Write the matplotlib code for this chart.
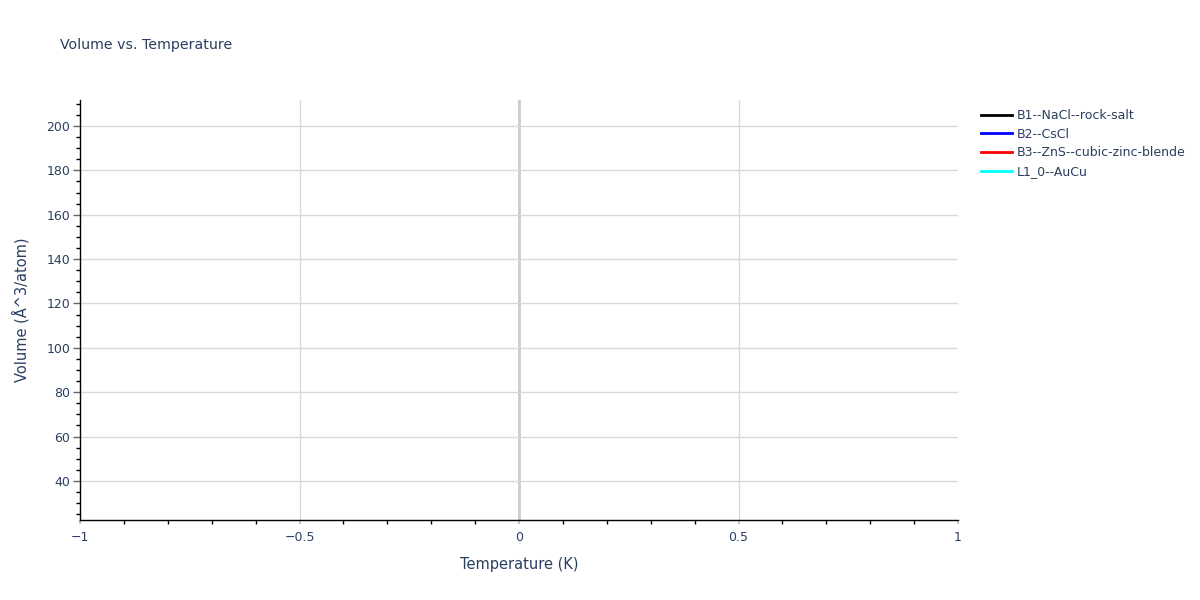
import matplotlib
matplotlib.use("Agg")
import matplotlib.pyplot as plt
from matplotlib.ticker import MultipleLocator, FuncFormatter
from matplotlib.lines import Line2D

TITLE = "Volume vs. Temperature"
X_LABEL = "Temperature (K)"
Y_LABEL = "Volume (Å^3/atom)"

# series: single point each at T = 0 K (nothing visible, as in the reference)
SERIES = ["B1--NaCl--rock-salt", "B2--CsCl", "B3--ZnS--cubic-zinc-blende", "L1_0--AuCu"]
COLORS = ["black", "blue", "red", "cyan"]
TEMPS = [[0.0], [0.0], [0.0], [0.0]]
VOLUMES = [[45.0], [36.0], [200.0], [30.0]]

TXT = "#2a3f5f"
plt.rcParams["font.family"] = ["DejaVu Sans"]

fig = plt.figure(figsize=(12, 6), dpi=100)
ax = fig.add_axes([80 / 1200, 1 - 520 / 600, 878 / 1200, 420 / 600])

for name, c, t, v in zip(SERIES, COLORS, TEMPS, VOLUMES):
    ax.plot(t, v, color=c, lw=2, label=name)

ax.set_xlim(-1, 1)
ax.set_ylim(22.4, 211.7)

ax.xaxis.set_major_locator(MultipleLocator(0.5))
ax.xaxis.set_minor_locator(MultipleLocator(0.1))
ax.yaxis.set_major_locator(MultipleLocator(20))
ax.yaxis.set_minor_locator(MultipleLocator(5))

def fmt_x(x, pos):
    s = f"{x:g}"
    return s.replace("-", "\u2212")

ax.xaxis.set_major_formatter(FuncFormatter(fmt_x))
ax.yaxis.set_major_formatter(FuncFormatter(lambda y, p: f"{int(round(y))}"))

# gridlines (none at the x edges)
for gx in [-0.5, 0.5]:
    ax.axvline(gx, color="#d9d9d9", lw=1, zorder=0.4)
ax.axvline(0, color="#cccccc", lw=2, zorder=0.5)
ax.grid(True, which="major", axis="y", color="#d9d9d9", lw=1)
ax.set_axisbelow(True)

for s in ["top", "right"]:
    ax.spines[s].set_visible(False)
for s in ["left", "bottom"]:
    ax.spines[s].set_color("black")
    ax.spines[s].set_linewidth(1)

ax.tick_params(axis="x", which="major", direction="out", length=3, width=1.5, color="#c8c8c8",
               labelsize=9, labelcolor=TXT, pad=5)
ax.tick_params(axis="y", which="major", direction="out", length=5, width=1, color="#666666",
               labelsize=9, labelcolor=TXT, pad=2)
ax.tick_params(which="minor", direction="out", length=3, width=1, color="black")

ax.set_xlabel(X_LABEL, fontsize=10.5, color=TXT, labelpad=9)
ax.set_ylabel(Y_LABEL, fontsize=10.5, color=TXT, labelpad=12)

fig.text(60 / 1200, 1 - 45 / 600, TITLE, fontsize=10.2, color=TXT, va="center", ha="left")

handles = [Line2D([], [], color=c, lw=2) for c in COLORS]
leg = fig.legend(handles, SERIES, loc="upper left", bbox_to_anchor=(976 / 1200, 1 - 104 / 600),
                 frameon=False, fontsize=9, handlelength=2.5, handletextpad=0.35,
                 labelspacing=0.45, borderaxespad=0)
for t in leg.get_texts():
    t.set_color(TXT)

fig.savefig("out.png", dpi=100)
